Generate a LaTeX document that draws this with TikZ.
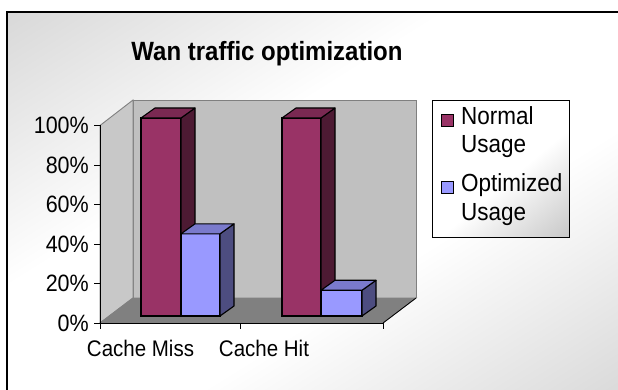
\documentclass[tikz,border=0pt]{standalone}
\usepackage{fontspec}
\setmainfont{Liberation Sans}
\usetikzlibrary{calc}

\definecolor{normal}{HTML}{993366}
\definecolor{normallado}{HTML}{4D1A33}
\definecolor{normaltopo}{HTML}{7A2952}
\definecolor{otimo}{HTML}{9999FF}
\definecolor{otimolado}{HTML}{4D4D80}
\definecolor{otimotopo}{HTML}{7A7ACC}
\definecolor{parede}{HTML}{C0C0C0}
\definecolor{paredelado}{HTML}{C8C8C8}
\definecolor{piso}{HTML}{808080}

\pgfdeclareverticalshading{fundo}{100bp}{color(0bp)=(parede); color(40bp)=(white);
  color(60bp)=(white); color(100bp)=(parede)}
\pgfdeclareverticalshading{fundolegenda}{100bp}{color(0bp)=(parede!90!black); color(45bp)=(white);
  color(100bp)=(white)}

\tikzset{
rotulo/.style = {font=\fontsize{20.5}{24}\selectfont, inner sep=0pt}
         }
\tikzset{
contorno/.style = {draw=piso, line width=0.9pt}
         }

% texto um pouco mais alto
\newcommand{\alto}[1]{\scalebox{1}[1.1]{#1}}

% barra 3D: x esquerdo, x direito, valor (%), cor frente, cor lado, cor topo
\newcommand{\barra}[6]{%
  \pgfmathsetmacro{\ytopo}{316-1.98*#3}
  \draw[line width=1.1pt, fill=#4] (#1,316) rectangle (#2,\ytopo);
  \draw[line width=1.1pt, fill=#5, line join=round] (#2,316) -- ++(14,-10) -- (#2+14,\ytopo-10) -- (#2,\ytopo) -- cycle;
  \draw[line width=1.1pt, fill=#6, line join=round] (#1,\ytopo) -- ++(14,-10) -- (#2+14,\ytopo-10) -- (#2,\ytopo) -- cycle;
}

\begin{document}
\begin{tikzpicture}[x=1pt,y=-1pt]
    \useasboundingbox (0,0) rectangle (618,390);
    \clip (0,0) rectangle (618,390);

    % FUNDO
    \fill[white] (0,0) rectangle (618,390);
    \shade[shading=fundo, shading angle=32] (7,12) rectangle (628,398);
    \draw[line width=1.6pt] (640,12) -- (7,12) -- (7,410);

    % TITULO
    \node[font=\bfseries\fontsize{24}{28}\selectfont, inner sep=0pt, anchor=base] (titulo) at (267,61) {\alto{Wan traffic optimization}};

    % PAREDES E PISO
    \fill[parede] (133,100) rectangle (416,298);
    \draw[contorno] (133,298) -- (133,100) -- (416,100) -- (416,298);
    \filldraw[contorno, fill=paredelado] (100,125.5) -- (133,100) -- (133,298) -- (100,323) -- cycle;
    \filldraw[contorno, fill=piso] (100,323) -- (133,298) -- (416,298) -- (383,323) -- cycle;
    \draw[line width=0.8pt] (383,323) -- (416,298);

    % BARRAS
    \barra{141}{181}{100}{normal}{normallado}{normaltopo}
    \barra{181}{220}{41.5}{otimo}{otimolado}{otimotopo}
    \barra{282}{321}{100}{normal}{normallado}{normaltopo}
    \barra{321}{362}{13}{otimo}{otimolado}{otimotopo}

    % EIXOS
    \draw[line width=0.9pt] (100,125.5) -- (100,323) -- (383,323);
    \foreach \v [count=\i from 0] in {0\%,20\%,40\%,60\%,80\%,100\%} {
      \draw[line width=0.9pt] (100,323-39.5*\i) -- ++(-6,0);
      \node[rotulo, anchor=east, font=\fontsize{21.5}{24}\selectfont] (y\i) at (89,323-39.5*\i) {\alto{\v}};
    }
    \foreach \xt in {100,240,383}
      \draw[line width=0.9pt] (\xt,323) -- ++(0,6);
    \node[rotulo, anchor=base] (miss) at (140.5,356) {\alto{Cache Miss}};
    \node[rotulo, anchor=base] (hit) at (264,356) {\alto{Cache Hit}};

    % LEGENDA
    \shade[shading=fundolegenda, shading angle=40] (432,100) rectangle (569,237);
    \draw[line width=0.9pt] (432,100) rectangle (569,237);
    \draw[line width=0.9pt, fill=normal] (441,114) rectangle (453,126);
    \draw[line width=0.9pt, fill=otimo] (441,181) rectangle (453,193);
    \node[rotulo, anchor=base west, font=\fontsize{22.5}{24}\selectfont] (leg1) at (461,125) {\alto{Normal}};
    \node[rotulo, anchor=base west, font=\fontsize{22.5}{24}\selectfont] (leg1b) at (461,153) {\alto{Usage}};
    \node[rotulo, anchor=base west, font=\fontsize{22.5}{24}\selectfont] (leg2) at (461,192) {\alto{Optimized}};
    \node[rotulo, anchor=base west, font=\fontsize{22.5}{24}\selectfont] (leg2b) at (461,220) {\alto{Usage}};

\end{tikzpicture}
\end{document}
